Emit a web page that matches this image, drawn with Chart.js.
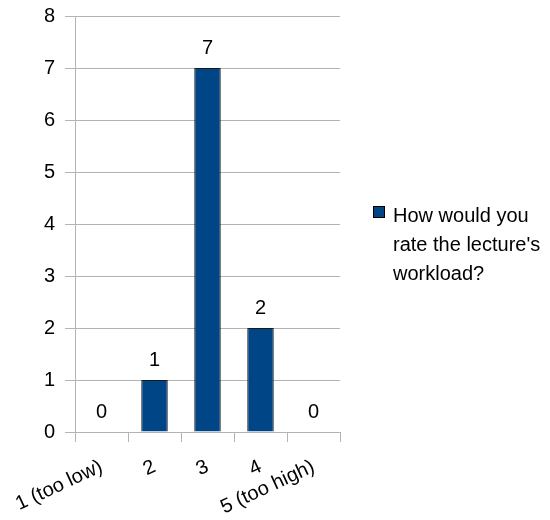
<!DOCTYPE html>
<html>
<head>
<meta charset="utf-8">
<script src="https://cdn.jsdelivr.net/npm/chart.js@4"></script>
<style>
  html, body { margin: 0; padding: 0; background: #fff; }
  #wrap { width: 550px; height: 520px; position: relative; }
</style>
</head>
<body>
<div id="wrap"><canvas id="chart" width="550" height="520"></canvas></div>
<script>
// chart data
const categories = ['1 (too low)', '2', '3', '4', '5 (too high)'];
const counts = [0, 1, 7, 2, 0];
const seriesName = "How would you rate the lecture's workload?";
const legendLines = ['How would you', "rate the lecture's", 'workload?'];
const yTicks = [0, 1, 2, 3, 4, 5, 6, 7, 8];

const FONT = 'Liberation Sans, Arial, sans-serif';
const FS = 20;
const BAR = '#004586';
const GRID = '#b3b3b3';

// value labels over each bar
const valueLabels = {
  id: 'valueLabels',
  afterDatasetsDraw(chart) {
    const ctx = chart.ctx;
    const meta = chart.getDatasetMeta(0);
    ctx.save();
    ctx.font = FS + 'px ' + FONT;
    ctx.fillStyle = '#000';
    ctx.textAlign = 'center';
    ctx.textBaseline = 'alphabetic';
    meta.data.forEach((bar, i) => {
      ctx.fillText(String(counts[i]), bar.x, bar.y - 14);
    });
    ctx.restore();
  }
};

// legend on the right, wrapped over three lines
const sideLegend = {
  id: 'sideLegend',
  afterDraw(chart) {
    const ctx = chart.ctx;
    const x = 373, y = 206;
    ctx.save();
    ctx.fillStyle = BAR;
    ctx.fillRect(x, y, 12, 12);
    ctx.strokeStyle = '#000';
    ctx.lineWidth = 1;
    ctx.strokeRect(x + 0.5, y + 0.5, 11, 11);
    ctx.font = FS + 'px ' + FONT;
    ctx.fillStyle = '#000';
    ctx.textBaseline = 'middle';
    legendLines.forEach((t, i) => ctx.fillText(t, 393, 216 + i * 29));
    ctx.restore();
  }
};

new Chart(document.getElementById('chart'), {
  type: 'bar',
  data: {
    labels: categories,
    datasets: [{
      label: seriesName,
      data: counts,
      backgroundColor: BAR,
      borderColor: '#1a1a1a',
      borderWidth: 1,
      barPercentage: 0.5,
      categoryPercentage: 1.0
    }]
  },
  options: {
    responsive: false,
    animation: false,
    layout: { padding: { top: 0, right: 210, left: 0, bottom: 0 } },
    plugins: { legend: { display: false }, tooltip: { enabled: false } },
    scales: {
      x: {
        offset: true,
        border: { color: GRID },
        grid: { offset: true, drawOnChartArea: false, drawTicks: true, tickLength: 10, color: GRID },
        ticks: { color: '#000', font: { family: FONT, size: FS }, autoSkip: false, minRotation: 25, maxRotation: 25, padding: 13 },
        afterFit(s) { s.height = 88; s.paddingLeft = 0; s.paddingRight = 0; }
      },
      y: {
        min: 0, max: 8,
        border: { color: GRID },
        grid: { color: GRID, tickLength: 10 },
        afterBuildTicks(s) { s.ticks = yTicks.map(v => ({ value: v })); },
        ticks: { color: '#000', font: { family: FONT, size: FS }, padding: 10 },
        afterFit(s) { s.width = 75; s.paddingTop = 16; }
      }
    }
  },
  plugins: [valueLabels, sideLegend]
});
</script>
</body>
</html>
